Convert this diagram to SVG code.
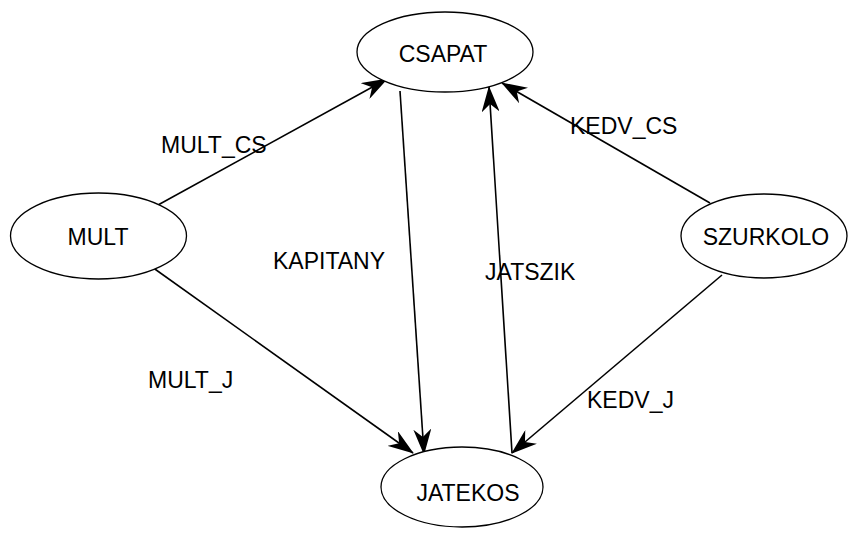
<svg xmlns="http://www.w3.org/2000/svg" width="848" height="536" viewBox="0 0 848 536">
<style>
.node ellipse { fill: #ffffff; stroke: #000000; stroke-width: 1.3; }
.node text, .lbl { font-family: "Liberation Sans", Arial, sans-serif; font-size: 23px; fill: #000000; }
.node text { text-anchor: middle; }
.edge { stroke: #000000; stroke-width: 1.6; fill: none; marker-end: url(#arr); }
</style>
<defs>
<marker id="arr" markerUnits="userSpaceOnUse" markerWidth="26" markerHeight="18" viewBox="0 0 26 18" refX="25" refY="9" orient="auto">
<path d="M26,9 L0,0 L8,9 L0,18 z" fill="#000000"/>
</marker>
</defs>
<rect width="848" height="536" fill="#ffffff"/>
<g id="connectors">
<line class="edge" x1="158" y1="205" x2="387" y2="79"/>
<line class="edge" x1="152" y1="267" x2="413" y2="453"/>
<line class="edge" x1="400" y1="91" x2="424" y2="454"/>
<line class="edge" x1="512" y1="453" x2="489" y2="87"/>
<line class="edge" x1="710" y1="203" x2="502" y2="83"/>
<line class="edge" x1="722" y1="275" x2="512" y2="453"/>
<text class="lbl" x="161" y="153">MULT_CS</text>
<text class="lbl" x="148" y="388">MULT_J</text>
<text class="lbl" x="273" y="269">KAPITANY</text>
<text class="lbl" x="485" y="280">JATSZIK</text>
<text class="lbl" x="570" y="134">KEDV_CS</text>
<text class="lbl" x="587" y="408">KEDV_J</text>
</g>
<g id="CSAPAT" class="node">
<ellipse cx="445" cy="52" rx="88" ry="40"/>
<text x="443" y="62">CSAPAT</text>
</g>
<g id="JATEKOS" class="node">
<ellipse cx="462" cy="487" rx="81" ry="40"/>
<text x="468" y="501">JATEKOS</text>
</g>
<g id="MULT" class="node">
<ellipse cx="98.5" cy="236" rx="88" ry="43"/>
<text x="98" y="245">MULT</text>
</g>
<g id="SZURKOLO" class="node">
<ellipse cx="764" cy="236" rx="83" ry="42"/>
<text x="766" y="245">SZURKOLO</text>
</g>
</svg>
